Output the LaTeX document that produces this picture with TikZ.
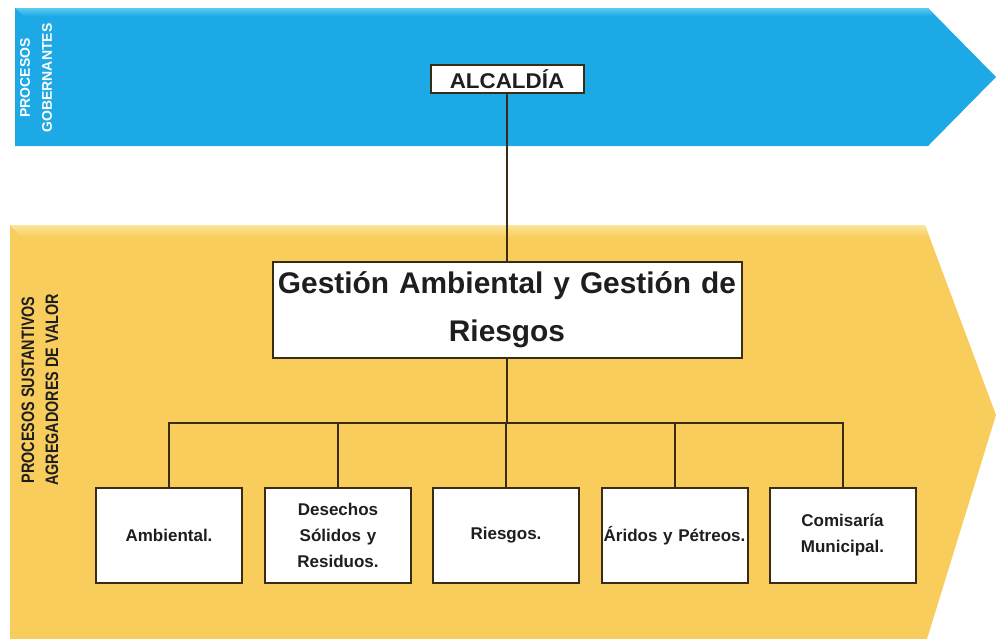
\documentclass[tikz,border=0pt]{standalone}
\usepackage{fontspec}
\setmainfont{Liberation Sans}
\definecolor{blueband}{HTML}{1CA9E5}
\definecolor{bluelight}{HTML}{5CCBF2}
\definecolor{yellowband}{HTML}{F8CD5C}
\definecolor{yellowlight}{HTML}{FCE59C}
\definecolor{boxline}{HTML}{3A2C14}
\definecolor{ink}{HTML}{1E1E1E}
\begin{document}
\begin{tikzpicture}[x=0.75pt,y=-0.75pt,
  conn/.style={draw=boxline,line width=1.5pt},
  boxbase/.style={draw=boxline,line width=1.5pt,fill=white,text=ink,inner sep=0pt,align=center},
  topbox/.style={boxbase,minimum width=114.75pt,minimum height=21pt,font=\bfseries\fontsize{16}{18}\selectfont},
  mainbox/.style={boxbase,minimum width=351.75pt,minimum height=72pt,text width=351pt,font=\bfseries\fontsize{22.4}{36}\selectfont},
  leafbox/.style={boxbase,minimum width=109.5pt,minimum height=71.25pt,text width=109pt,font=\bfseries\fontsize{12.75}{19.5}\selectfont},
  sidelabel/.style={rotate=90,align=center,inner sep=0pt,font=\bfseries}]
\useasboundingbox (0,0) rectangle (996,639);
\fill[white] (0,0) rectangle (996,639);
% blue band
\fill[blueband] (15,8) -- (928,8) -- (996,77) -- (928,146) -- (15,146) -- cycle;
\shade[top color=bluelight,bottom color=blueband] (15,8) -- (928,8) -- (934,16) -- (24,16) -- cycle;
% yellow band
\fill[yellowband] (10,225) -- (925,225) -- (996,415) -- (927,639) -- (10,639) -- cycle;
\shade[top color=yellowlight,bottom color=yellowband] (10,225) -- (925,225) -- (929,237) -- (22,237) -- cycle;
% side labels
\node[sidelabel,text=white,font=\bfseries\fontsize{10.5}{16.5}\selectfont] (gob) at (36,78) {PROCESOS\\GOBERNANTES};
\node[sidelabel,text=ink,font=\bfseries\fontsize{13.5}{18}\selectfont] (sus) at (40,390)
  {\scalebox{0.8}[1]{PROCESOS SUSTANTIVOS}\\\scalebox{0.8}[1]{AGREGADORES DE VALOR}};
% boxes
\node[topbox] (alc) at (507,79) {\scalebox{1.05}[1]{ALCALDÍA}};
\node[mainbox] (gest) at (507,310) {Gestión Ambiental y Gestión de\\Riesgos};
\node[leafbox] (amb) at (169,535.5) {Ambiental.};
\node[leafbox] (des) at (338,535.5) {Desechos\\Sólidos y\\Residuos.};
\node[leafbox] (rie) at (506,535.5) {Riesgos.};
\node[leafbox] (ari) at (674.5,535.5) {Áridos y Pétreos.};
\node[leafbox] (com) at (842.5,535.5) {Comisaría\\Municipal.};
% connectors
\coordinate (split) at (507,423);
\draw[conn] (alc.south) -- (gest.north);
\draw[conn] (gest.south) -- (split);
\draw[conn] (split) -| (amb.north);
\draw[conn] (split) -| (des.north);
\draw[conn] (split) -| (rie.north);
\draw[conn] (split) -| (ari.north);
\draw[conn] (split) -| (com.north);
\end{tikzpicture}
\end{document}
